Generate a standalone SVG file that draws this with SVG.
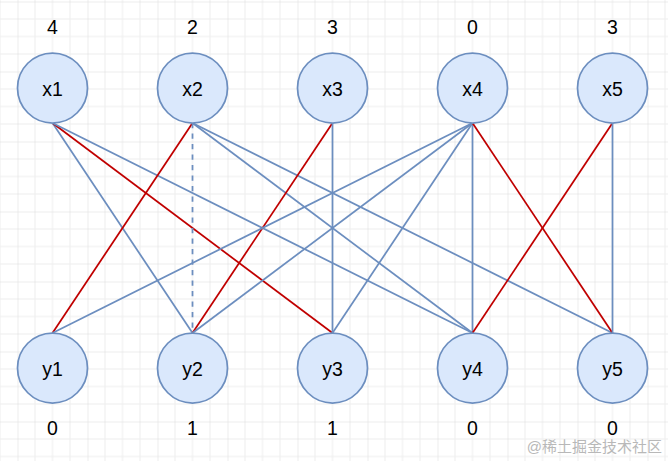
<svg xmlns="http://www.w3.org/2000/svg" width="668" height="461" viewBox="0 0 668 461">
<defs>
<pattern id="grid" x="17.5" y="1.5" width="70" height="70" patternUnits="userSpaceOnUse">
<path d="M17.5 0V70M35 0V70M52.5 0V70M0 17.5H70M0 35H70M0 52.5H70" stroke="#ededed" stroke-width="1" fill="none"/>
<path d="M0 0V70M0 0H70" stroke="#dcdcdc" stroke-width="1" fill="none"/>
</pattern>
</defs>
<style>
.e{stroke:#6c8ebf;stroke-width:1.75;fill:none}
.r{stroke:#c00000;stroke-width:1.75;fill:none}
.d{stroke-dasharray:5.25 5.25}
.n circle{fill:#dae8fc;stroke:#6c8ebf;stroke-width:1.75}
.t{font-family:"Liberation Sans",Arial,sans-serif;font-size:19.5px;fill:#000;text-anchor:middle}
.w{font-family:"Liberation Sans","Noto Sans CJK SC",sans-serif;font-size:15px;fill:#b8b8b8;text-anchor:end}
</style>
<rect width="668" height="461" fill="#ffffff"/>
<rect width="668" height="461" fill="url(#grid)"/>
<g id="connectors">
<line class="e" x1="52.5" y1="123" x2="192.5" y2="333"/>
<line class="r" x1="52.5" y1="123" x2="332.5" y2="333"/>
<line class="e" x1="52.5" y1="123" x2="472.5" y2="333"/>
<line class="r" x1="192.5" y1="123" x2="52.5" y2="333"/>
<line class="e d" x1="192.5" y1="123" x2="192.5" y2="333"/>
<line class="e" x1="192.5" y1="123" x2="472.5" y2="333"/>
<line class="e" x1="192.5" y1="123" x2="612.5" y2="333"/>
<line class="r" x1="332.5" y1="123" x2="192.5" y2="333"/>
<line class="e" x1="332.5" y1="123" x2="332.5" y2="333"/>
<line class="e" x1="472.5" y1="123" x2="52.5" y2="333"/>
<line class="e" x1="472.5" y1="123" x2="192.5" y2="333"/>
<line class="e" x1="472.5" y1="123" x2="332.5" y2="333"/>
<line class="e" x1="472.5" y1="123" x2="472.5" y2="333"/>
<line class="r" x1="472.5" y1="123" x2="612.5" y2="333"/>
<line class="r" x1="612.5" y1="123" x2="472.5" y2="333"/>
<line class="e" x1="612.5" y1="123" x2="612.5" y2="333"/>
</g>
<g id="x1" class="n"><circle cx="52.5" cy="88" r="35"/><text class="t" x="52.5" y="95.5">x1</text><text class="t" x="52.5" y="33.5">4</text></g>
<g id="x2" class="n"><circle cx="192.5" cy="88" r="35"/><text class="t" x="192.5" y="95.5">x2</text><text class="t" x="192.5" y="33.5">2</text></g>
<g id="x3" class="n"><circle cx="332.5" cy="88" r="35"/><text class="t" x="332.5" y="95.5">x3</text><text class="t" x="332.5" y="33.5">3</text></g>
<g id="x4" class="n"><circle cx="472.5" cy="88" r="35"/><text class="t" x="472.5" y="95.5">x4</text><text class="t" x="472.5" y="33.5">0</text></g>
<g id="x5" class="n"><circle cx="612.5" cy="88" r="35"/><text class="t" x="612.5" y="95.5">x5</text><text class="t" x="612.5" y="33.5">3</text></g>
<g id="y1" class="n"><circle cx="52.5" cy="368" r="35"/><text class="t" x="52.5" y="375.5">y1</text><text class="t" x="52.5" y="435">0</text></g>
<g id="y2" class="n"><circle cx="192.5" cy="368" r="35"/><text class="t" x="192.5" y="375.5">y2</text><text class="t" x="192.5" y="435">1</text></g>
<g id="y3" class="n"><circle cx="332.5" cy="368" r="35"/><text class="t" x="332.5" y="375.5">y3</text><text class="t" x="332.5" y="435">1</text></g>
<g id="y4" class="n"><circle cx="472.5" cy="368" r="35"/><text class="t" x="472.5" y="375.5">y4</text><text class="t" x="472.5" y="435">0</text></g>
<g id="y5" class="n"><circle cx="612.5" cy="368" r="35"/><text class="t" x="612.5" y="375.5">y5</text><text class="t" x="612.5" y="435">0</text></g>
<text class="w" x="662" y="452">@稀土掘金技术社区</text>
</svg>
